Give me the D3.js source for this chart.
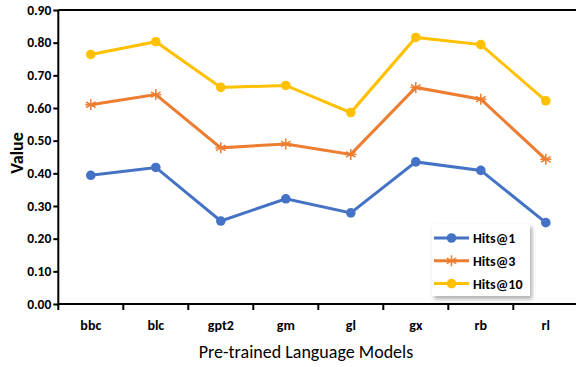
<!DOCTYPE html>
<html><head><meta charset="utf-8">
<script src="https://cdn.jsdelivr.net/npm/d3@7"></script>
<style>body{margin:0;background:#fff}svg{display:block}</style>
</head><body>
<svg id="c" width="576" height="367"></svg>
<script>
const categories = ["bbc","blc","gpt2","gm","gl","gx","rb","rl"];
const hits1  = [0.394,0.418,0.254,0.322,0.279,0.435,0.409,0.249];
const hits3  = [0.610,0.641,0.478,0.490,0.458,0.663,0.627,0.443];
const hits10 = [0.764,0.803,0.663,0.669,0.586,0.816,0.794,0.622];
const seriesNames = ["Hits@1","Hits@3","Hits@10"];
const yTicks = [0,0.1,0.2,0.3,0.4,0.5,0.6,0.7,0.8,0.9];

const colors = ["#4472C4","#ED7D31","#FFC000"];
const series = [hits1,hits3,hits10];
const font = "Carlito, 'Liberation Sans', Arial, sans-serif";

const svg = d3.select("#c");
const defs = svg.append("defs");
const f = defs.append("filter").attr("id","sh").attr("x","-20%").attr("y","-20%").attr("width","150%").attr("height","150%");
f.append("feGaussianBlur").attr("stdDeviation",2);

const L=58.3, R=578.3, T=10, B=304;
const x = d3.scaleBand().domain(categories).range([L,R]);
const y = d3.scaleLinear().domain([0,0.9]).range([B,T]);

// top border
svg.append("line").attr("x1",L).attr("x2",576).attr("y1",T).attr("y2",T)
  .attr("stroke","#000").attr("stroke-width",2);

// y axis
const ya = svg.append("g").attr("transform",`translate(${L},0)`)
  .call(d3.axisLeft(y).tickValues(yTicks).tickFormat(d3.format(".2f")).tickSize(5).tickSizeOuter(0));
ya.select(".domain").attr("stroke-width",2).attr("d",`M0,${T}V${B+6}`);
ya.selectAll(".tick line").attr("stroke-width",2);
ya.selectAll("text").attr("font-family",font).attr("font-weight","bold").attr("font-size",13.5).attr("fill","#000").attr("x",-7);

// x axis
const xa = svg.append("g").attr("transform",`translate(0,${B})`)
  .call(d3.axisBottom(x).tickSize(0).tickSizeOuter(0));
xa.select(".domain").attr("stroke-width",2).attr("d",`M${L},0H576`);
xa.selectAll("text").attr("font-family",font).attr("font-weight","bold").attr("font-size",14).attr("fill","#000").attr("dy","0").attr("y",26);
xa.selectAll(".btick").data(categories.slice(1)).enter().append("line")
  .attr("x1",d=>x(d)).attr("x2",d=>x(d)).attr("y1",0).attr("y2",6)
  .attr("stroke","#000").attr("stroke-width",2);

// axis titles
svg.append("text").attr("transform","translate(23,153) rotate(-90)")
  .attr("text-anchor","middle").attr("font-family",font).attr("font-weight","bold")
  .attr("font-size",18).text("Value");
svg.append("text").attr("x",306).attr("y",358).attr("text-anchor","middle")
  .attr("font-family",font).attr("font-size",18).text("Pre-trained Language Models");

// lines
const line = d3.line().x((d,i)=>x(categories[i])+x.bandwidth()/2).y(d=>y(d));
function star(g,cx,cy,r,c){
  [0,60,120].forEach(a=>{const rad=a*Math.PI/180;
    g.append("line").attr("x1",cx-r*Math.sin(rad)).attr("y1",cy-r*Math.cos(rad))
     .attr("x2",cx+r*Math.sin(rad)).attr("y2",cy+r*Math.cos(rad))
     .attr("stroke",c).attr("stroke-width",1.5);});
  g.append("line").attr("x1",cx-r).attr("x2",cx+r).attr("y1",cy).attr("y2",cy).attr("stroke",c).attr("stroke-width",1.5);
}
series.forEach((s,k)=>{
  const g=svg.append("g");
  g.append("path").datum(s).attr("d",line).attr("fill","none").attr("stroke",colors[k]).attr("stroke-width",3);
  s.forEach((v,i)=>{
    const cx=x(categories[i])+x.bandwidth()/2, cy=y(v);
    if(k===1) star(g,cx,cy,5.5,colors[k]);
    else g.append("circle").attr("cx",cx).attr("cy",cy).attr("r",4.8).attr("fill",colors[k]);
  });
});

// legend
const lg = svg.append("g");
const lx=432, ly=224, lw=98, lh=72;
lg.append("rect").attr("x",lx+2).attr("y",ly+3).attr("width",lw).attr("height",lh).attr("fill","#888").attr("opacity",0.7).attr("filter","url(#sh)");
lg.append("rect").attr("x",lx).attr("y",ly).attr("width",lw).attr("height",lh).attr("fill","#fff");
seriesNames.forEach((n,k)=>{
  const yy=238+k*22.8;
  lg.append("line").attr("x1",434).attr("x2",469).attr("y1",yy).attr("y2",yy).attr("stroke",colors[k]).attr("stroke-width",3);
  if(k===1) star(lg,451.5,yy,5.5,colors[k]);
  else lg.append("circle").attr("cx",451.5).attr("cy",yy).attr("r",4.8).attr("fill",colors[k]);
  lg.append("text").attr("x",473).attr("y",yy+5).attr("font-family",font).attr("font-weight","bold")
    .attr("font-size",14).text(n);
});
</script>
</body></html>
